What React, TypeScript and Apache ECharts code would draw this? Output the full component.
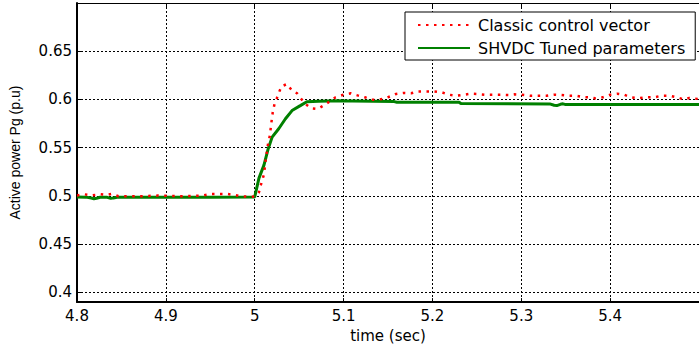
import React, { useEffect, useRef } from "react";
import * as echarts from "echarts";

const xTicks = [4.8, 4.9, 5.0, 5.1, 5.2, 5.3, 5.4];
const xTickLabels = ["4.8", "4.9", "5", "5.1", "5.2", "5.3", "5.4"];
const yTicks = [0.4, 0.45, 0.5, 0.55, 0.6, 0.65];
const yTickLabels = ["0.4", "0.45", "0.5", "0.55", "0.6", "0.65"];

const classicT = [
  4.8, 4.8076, 4.817, 4.8262, 4.8337, 4.8393, 4.8467, 4.87, 4.891, 4.9155, 4.9415, 4.951, 4.96, 4.969, 4.977, 4.984, 4.995, 5.0,
  5.0048, 5.0067, 5.0104, 5.0123, 5.0152, 5.0171, 5.0186, 5.0204, 5.0223, 5.0246, 5.0271, 5.0301, 5.0364, 5.0413, 5.0476, 5.0531,
  5.0569, 5.0636, 5.071, 5.0785, 5.0911, 5.0997, 5.108, 5.1156, 5.1239, 5.1313, 5.139, 5.147, 5.1544, 5.159, 5.1674, 5.1759,
  5.1834, 5.1927, 5.202, 5.2105, 5.2188, 5.2272, 5.2355, 5.2436, 5.2504, 5.2596, 5.269, 5.2782, 5.2875, 5.292, 5.3006, 5.3098,
  5.3192, 5.3285, 5.3366, 5.3452, 5.3527, 5.362, 5.3701, 5.3779, 5.3832, 5.3918, 5.4002, 5.4077, 5.4158, 5.4233, 5.4319, 5.44,
  5.4493, 5.4579, 5.4672, 5.4754, 5.4828, 5.4891, 5.5,
];
const classicV = [
  0.5005, 0.5018, 0.5006, 0.5018, 0.5011, 0.5021, 0.4997, 0.4997, 0.5004, 0.4997, 0.5004, 0.5021, 0.5021, 0.5021, 0.5011, 0.4997, 0.4992, 0.4995,
  0.5038, 0.5107, 0.5223, 0.537, 0.5552, 0.5628, 0.5748, 0.5874, 0.5954, 0.6005, 0.6067, 0.6136, 0.616, 0.6101, 0.6064, 0.5998,
  0.5954, 0.5909, 0.5902, 0.5943, 0.6023, 0.6049, 0.6064, 0.6043, 0.6023, 0.5998, 0.5998, 0.6012, 0.6039, 0.6057, 0.6067, 0.6064,
  0.6084, 0.6084, 0.6084, 0.6074, 0.6049, 0.6039, 0.6049, 0.606, 0.6057, 0.6049, 0.6049, 0.6049, 0.6046, 0.6053, 0.6049, 0.6039,
  0.6039, 0.6039, 0.6049, 0.6046, 0.6039, 0.6039, 0.6025, 0.6022, 0.6012, 0.6022, 0.6049, 0.606, 0.6049, 0.6022, 0.6012, 0.6022,
  0.6022, 0.6039, 0.6039, 0.6022, 0.6001, 0.6015, 0.6005,
];

const tunedT = [
  4.8, 4.81, 4.816, 4.819, 4.822, 4.826, 4.834, 4.838, 4.841, 4.845, 4.9, 4.95, 5.0, 5.0048, 5.0104, 5.0152, 5.0196, 5.027,
  5.0346, 5.042, 5.0513, 5.0587, 5.0718, 5.094, 5.105, 5.11, 5.157, 5.16, 5.23, 5.232, 5.332, 5.337, 5.34, 5.344, 5.347, 5.35, 5.5,
];
const tunedV = [
  0.499, 0.4988, 0.4978, 0.4972, 0.4976, 0.4986, 0.4986, 0.4975, 0.498, 0.4986, 0.4986, 0.4986, 0.499, 0.5185, 0.532, 0.549, 0.561, 0.5697,
  0.58, 0.5885, 0.5936, 0.5977, 0.5982, 0.5988, 0.5985, 0.5985, 0.5978, 0.5972, 0.5971, 0.5958, 0.5954, 0.594, 0.5937, 0.595, 0.5955, 0.5947, 0.5947,
];

const FONT = "DejaVu Sans";

export default function App() {
  const ref = useRef<HTMLDivElement>(null);
  useEffect(() => {
    if (!ref.current) return;
    const chart = echarts.init(ref.current, null, { renderer: "svg" });
    const labelOf = (v: number) => {
      const i = xTicks.findIndex((t) => Math.abs(t - v) < 1e-6);
      return i >= 0 ? xTickLabels[i] : "";
    };
    const ylabelOf = (v: number) => {
      const i = yTicks.findIndex((t) => Math.abs(t - v) < 1e-6);
      return i >= 0 ? yTickLabels[i] : "";
    };
    chart.setOption({
      animation: false,
      backgroundColor: "#fff",
      grid: { left: 76, right: -5, top: 3, bottom: 44, containLabel: false },
      legend: {
        orient: "vertical",
        left: 405,
        top: 12,
        backgroundColor: "#fff",
        borderColor: "#000",
        borderWidth: 1,
        padding: [5, 10, 4, 12],
        itemWidth: 52,
        itemHeight: 14,
        itemGap: 7,
        itemStyle: { opacity: 0, borderWidth: 0 },
        textStyle: { fontFamily: FONT, fontSize: 16, color: "#000", padding: [0, 0, 0, 3] },
        data: ["Classic control vector", "SHVDC Tuned parameters"],
      },
      xAxis: [
        {
          type: "value",
          min: 4.8,
          max: 5.5,
          position: "bottom",
          name: "time (sec)",
          nameLocation: "middle",
          nameGap: 24,
          nameTextStyle: { fontFamily: FONT, fontSize: 15, color: "#000" },
          axisLine: { onZero: false, lineStyle: { color: "#000", width: 2 } },
          axisTick: { inside: true, length: 4, customValues: xTicks, lineStyle: { color: "#000", width: 1 } },
          axisLabel: {
            customValues: xTicks,
            formatter: labelOf,
            fontFamily: FONT,
            fontSize: 15,
            color: "#000",
            margin: 6,
          },
          splitLine: { show: true, lineStyle: { color: "#000", width: 1, type: [2, 2] } },
        },
        {
          type: "value",
          min: 4.8,
          max: 5.5,
          position: "top",
          axisLine: { onZero: false, lineStyle: { color: "#000", width: 1 } },
          axisTick: { inside: true, length: 4, customValues: xTicks, lineStyle: { color: "#000", width: 1 } },
          axisLabel: { show: false },
          splitLine: { show: false },
        },
      ],
      yAxis: {
        type: "value",
        min: 0.39,
        max: 0.7,
        name: "Active power Pg (p.u)",
        nameLocation: "middle",
        nameGap: 55,
        nameTextStyle: { fontFamily: "Liberation Sans", fontSize: 14, color: "#000" },
        axisLine: { show: true, onZero: false, lineStyle: { color: "#000", width: 2 } },
        axisTick: { show: true, inside: true, length: 4, customValues: yTicks, lineStyle: { color: "#000", width: 1 } },
        axisLabel: {
          customValues: yTicks,
          formatter: ylabelOf,
          fontFamily: FONT,
          fontSize: 15,
          color: "#000",
          margin: 5,
        },
        splitLine: { show: true, lineStyle: { color: "#000", width: 1, type: [2, 2] } },
      },
      series: [
        {
          name: "Classic control vector",
          type: "line",
          symbol: "none",
          xAxisIndex: 0,
          data: classicT.map((t, i) => [t, classicV[i]]),
          itemStyle: { color: "#ff0000" },
          lineStyle: { color: "#ff0000", width: 2.5, type: [2.5, 5.5], cap: "butt" },
          z: 3,
        },
        {
          name: "SHVDC Tuned parameters",
          type: "line",
          symbol: "none",
          xAxisIndex: 0,
          data: tunedT.map((t, i) => [t, tunedV[i]]),
          itemStyle: { color: "#008000" },
          lineStyle: { color: "#008000", width: 3 },
          z: 2,
        },
      ],
    });
    return () => chart.dispose();
  }, []);
  return (
    <div
      ref={ref}
      style={{ position: "fixed", left: 0, top: 0, width: 699, height: 348, background: "#fff" }}
    />
  );
}
